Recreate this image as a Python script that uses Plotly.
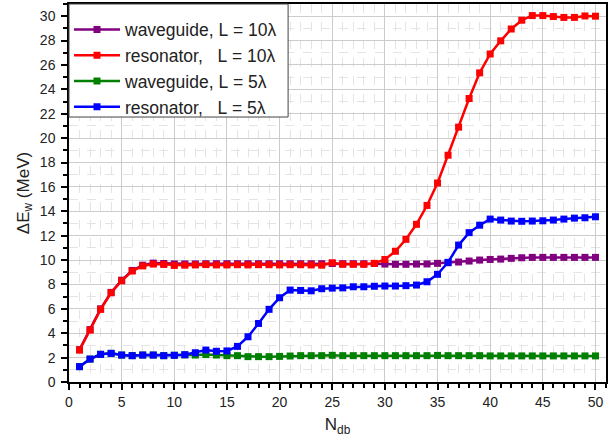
import plotly.graph_objects as go

n_db = list(range(1, 51))

waveguide_10 = [2.65, 4.3, 6.0, 7.35, 8.35, 9.15, 9.58, 9.75, 9.72, 9.68,
                9.68, 9.68, 9.7, 9.7, 9.7, 9.7, 9.7, 9.7, 9.7, 9.7,
                9.7, 9.7, 9.7, 9.7, 9.72, 9.7, 9.7, 9.7, 9.72, 9.67,
                9.65, 9.65, 9.67, 9.68, 9.73, 9.78, 9.84, 9.92, 10.0, 10.05,
                10.08, 10.14, 10.19, 10.22, 10.22, 10.22, 10.22, 10.22, 10.22, 10.22]

resonator_10 = [2.62, 4.26, 5.96, 7.32, 8.3, 9.1, 9.52, 9.67, 9.64, 9.56,
                9.58, 9.6, 9.63, 9.6, 9.6, 9.62, 9.6, 9.62, 9.62, 9.6,
                9.62, 9.62, 9.6, 9.58, 9.78, 9.65, 9.65, 9.65, 9.73, 10.05,
                10.72, 11.7, 12.93, 14.48, 16.32, 18.6, 20.9, 23.25, 25.35, 26.9,
                27.98, 28.95, 29.67, 30.05, 30.05, 29.97, 29.9, 29.9, 30.02, 30.0]

waveguide_5 = [1.26, 1.88, 2.27, 2.35, 2.21, 2.16, 2.21, 2.21, 2.16, 2.19,
               2.22, 2.21, 2.25, 2.21, 2.16, 2.16, 2.08, 2.08, 2.08, 2.1,
               2.13, 2.16, 2.16, 2.16, 2.19, 2.16, 2.16, 2.16, 2.16, 2.16,
               2.16, 2.16, 2.16, 2.16, 2.18, 2.16, 2.16, 2.16, 2.16, 2.14,
               2.14, 2.14, 2.14, 2.14, 2.14, 2.14, 2.14, 2.14, 2.14, 2.14]

resonator_5 = [1.26, 1.88, 2.27, 2.35, 2.21, 2.16, 2.21, 2.21, 2.16, 2.19,
               2.24, 2.4, 2.62, 2.52, 2.55, 2.92, 3.71, 4.8, 5.96, 6.91,
               7.54, 7.51, 7.48, 7.65, 7.7, 7.72, 7.81, 7.81, 7.85, 7.87,
               7.87, 7.9, 7.95, 8.22, 8.83, 9.81, 11.23, 12.25, 12.86, 13.36,
               13.28, 13.2, 13.18, 13.2, 13.22, 13.28, 13.36, 13.44, 13.47, 13.55]

names = ["waveguide,\u00a0L\u00a0=\u00a010\u03bb",
         "resonator,\u00a0\u00a0\u00a0L\u00a0=\u00a010\u03bb",
         "waveguide,\u00a0L\u00a0=\u00a05\u03bb",
         "resonator,\u00a0\u00a0\u00a0L\u00a0=\u00a05\u03bb"]
colors = ["#800080", "#ff0000", "#008000", "#0000ff"]
series = [waveguide_10, resonator_10, waveguide_5, resonator_5]

fig = go.Figure()
for i, (name, col, ys) in enumerate(zip(names, colors, series)):
    fig.add_trace(go.Scatter(
        x=n_db, y=ys, name=name, mode="lines+markers",
        line=dict(color=col, width=2.5),
        marker=dict(symbol="square", size=7, color=col, line=dict(width=0)),
    ))

font_family = "Liberation Sans, Arial, sans-serif"

# legend frame (decoration) in paper coordinates
fig.add_shape(type="rect", xref="paper", yref="paper",
              x0=0, x1=0.408, y0=0.701, y1=1.0,
              fillcolor="white", line=dict(color="#444", width=1),
              layer="above")

fig.update_layout(
    width=609, height=446,
    margin=dict(l=69, r=3, t=4, b=64),
    paper_bgcolor="white", plot_bgcolor="white",
    font=dict(family=font_family, size=14, color="#222"),
    showlegend=True,
    legend=dict(x=0, y=0.98, xanchor="left", yanchor="top",
                bgcolor="rgba(0,0,0,0)", borderwidth=0,
                font=dict(size=17.5, color="#222"),
                itemwidth=46),
)

fig.update_xaxes(
    range=[0, 51], tickmode="linear", tick0=0, dtick=5,
    ticks="outside", ticklen=6, tickwidth=1.5, tickcolor="black",
    showline=True, linecolor="black", linewidth=1.5, mirror=True,
    showgrid=True, gridcolor="#cccccc", gridwidth=1,
    minor=dict(dtick=1, ticks="outside", ticklen=4, tickcolor="black",
               showgrid=True, gridcolor="#e4e4e4", griddash="dash", gridwidth=1),
    zeroline=False, automargin=False,
    title=dict(text="N<sub>db</sub>", font=dict(size=17), standoff=10),
    tickfont=dict(size=14),
)
fig.update_yaxes(
    range=[0, 31], tickmode="linear", tick0=0, dtick=2,
    ticks="outside", ticklen=6, tickwidth=1.5, tickcolor="black",
    showline=True, linecolor="black", linewidth=1.5, mirror=True,
    showgrid=True, gridcolor="#cccccc", gridwidth=1,
    minor=dict(dtick=1, ticks="outside", ticklen=4, tickcolor="black",
               showgrid=True, gridcolor="#e4e4e4", griddash="dash", gridwidth=1),
    zeroline=False, automargin=False, ticklabelstandoff=3,
    title=dict(text="\u0394E<sub>w</sub> (MeV)", font=dict(size=17), standoff=6),
    tickfont=dict(size=14),
)

fig.write_html("out.html", config={"displayModeBar": False},
               post_script="document.body.style.margin='0';")
